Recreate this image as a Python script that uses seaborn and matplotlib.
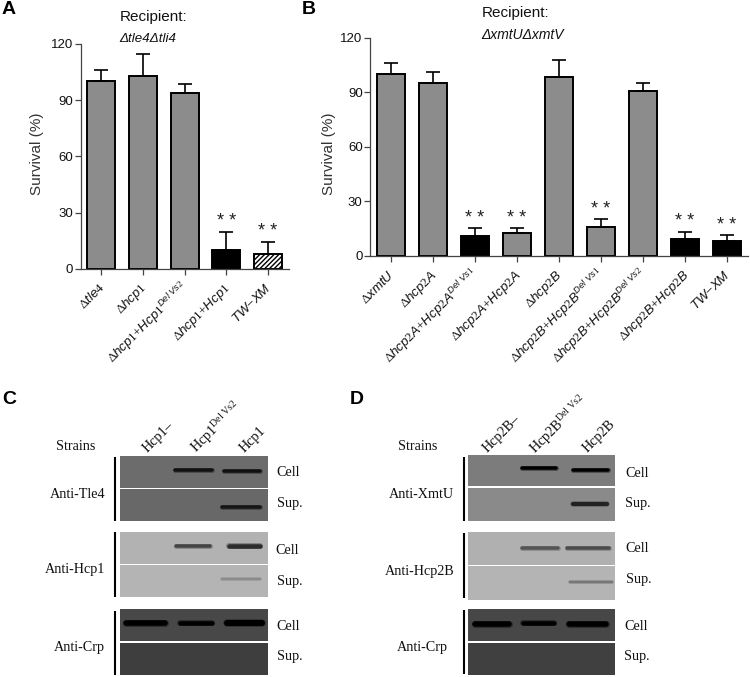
import matplotlib
matplotlib.use('Agg')
import matplotlib.pyplot as plt
import pandas as pd
import seaborn as sns
from matplotlib.patches import Rectangle
from matplotlib.transforms import ScaledTranslation

# Data
a_labels = [r"$\mathit{Δtle4}$", r"$\mathit{Δhcp1}$", r"$\mathit{Δhcp1{+}Hcp1}^{\mathit{Del\ Vs2}}$",
            r"$\mathit{Δhcp1{+}Hcp1}$", r"$\mathit{TW{-}XM}$"]
a_values = [100, 103, 93.8, 10, 8]
a_err_top = [106, 114.5, 98.5, 19.6, 14.2]
a_colors = ['#8c8c8c', '#8c8c8c', '#8c8c8c', 'black', 'white']
a_stars = [False, False, False, True, True]

b_labels = [r"$\mathit{ΔxmtU}$", r"$\mathit{Δhcp2A}$", r"$\mathit{Δhcp2A{+}Hcp2A}^{\mathit{Del\ Vs1}}$",
            r"$\mathit{Δhcp2A{+}Hcp2A}$", r"$\mathit{Δhcp2B}$", r"$\mathit{Δhcp2B{+}Hcp2B}^{\mathit{Del\ Vs1}}$",
            r"$\mathit{Δhcp2B{+}Hcp2B}^{\mathit{Del\ Vs2}}$", r"$\mathit{Δhcp2B{+}Hcp2B}$", r"$\mathit{TW{-}XM}$"]
b_values = [100.2, 95.2, 11, 12.7, 98.2, 16, 90.6, 9.4, 8]
b_err_top = [105.9, 101.3, 15, 15.2, 107.7, 20.2, 94.9, 13.2, 11.2]
b_colors = ['#8c8c8c', '#8c8c8c', 'black', '#8c8c8c', '#8c8c8c', '#8c8c8c', '#8c8c8c', 'black', 'black']
b_stars = [False, False, True, True, False, True, False, True, True]

y_ticks = [0, 30, 60, 90, 120]

# gel panels, everything in image pixels: (x0, x1, y0, y1, shade)
c_blots = [(120, 268, 455.7, 488, '#6c6c6c'), (120, 268, 489.3, 521.3, '#686868'),
           (120, 268, 531.7, 563.7, '#b2b2b2'), (120, 268, 565, 597.3, '#b4b4b4'),
           (120, 268, 608.7, 641.3, '#484848'), (120, 268, 642.7, 675.3, '#3e3e3e')]
d_blots = [(467.7, 614.7, 455, 486, '#7c7c7c'), (467.7, 614.7, 487.7, 521, '#8a8a8a'),
           (467.7, 614.7, 531.7, 564.7, '#b0b0b0'), (467.7, 614.7, 566, 599.7, '#b4b4b4'),
           (467.7, 614.7, 608.7, 641.3, '#474747'), (467.7, 614.7, 643.3, 674.7, '#404040')]
# bands: (x0, x1, y, thickness px, colour)
c_bands = [(175, 212, 470, 3.5, '#111111'), (224, 260, 470.7, 3.5, '#111111'), (222, 260, 506.7, 3.5, '#151515'),
           (176, 210, 546.3, 3.5, '#444444'), (229, 260, 546.3, 4.5, '#2c2c2c'), (222, 260, 578.7, 2.5, '#8c8c8c'),
           (126, 165, 623.3, 5.5, 'black'), (180, 212, 623.3, 4.5, 'black'), (227, 262, 622.8, 6, 'black')]
d_bands = [(522, 556, 468, 3.5, 'black'), (573, 608, 469.7, 3.5, 'black'), (573, 607, 504, 4, '#222222'),
           (522, 558, 548, 3.5, '#555555'), (567, 609, 547.7, 3.5, '#4c4c4c'), (570, 612, 582, 2.5, '#777777'),
           (475, 509, 624, 5.5, 'black'), (523, 554, 623.3, 4.5, 'black'), (569, 606, 624, 5.5, 'black')]
# black bars left of each antibody group: (x, y0, y1)
group_bars = [(115, 456.7, 520.7), (115, 532.3, 596.7), (115, 610.7, 675),
              (463.7, 456.7, 520.7), (463.7, 533.3, 597.7), (463.7, 610, 674)]
# (text, x, y, ha)
gel_text = [('Strains', 76, 446.7, 'center'), ('Anti-Tle4', 105, 495, 'right'), ('Anti-Hcp1', 105, 570, 'right'),
            ('Anti-Crp', 105, 647.7, 'right'), ('Cell', 276.7, 472.7, 'left'), ('Sup.', 276.7, 503.7, 'left'),
            ('Cell', 275.7, 551, 'left'), ('Sup.', 276.7, 581, 'left'), ('Cell', 276.7, 626, 'left'),
            ('Sup.', 276.7, 656.7, 'left'),
            ('Strains', 417.3, 446.7, 'center'), ('Anti-XmtU', 454, 494.3, 'right'), ('Anti-Hcp2B', 455, 571.7, 'right'),
            ('Anti-Crp', 448.3, 647.7, 'right'), ('Cell', 625, 473.3, 'left'), ('Sup.', 625.3, 503.3, 'left'),
            ('Cell', 625, 549, 'left'), ('Sup.', 625.7, 579.3, 'left'), ('Cell', 624, 626, 'left'),
            ('Sup.', 624, 656.7, 'left')]
gel_columns = [('Hcp1–', 145, 450), (r'$\mathrm{Hcp1}^{\mathrm{Del\ Vs2}}$', 193.3, 450), ('Hcp1', 242.3, 450),
               ('Hcp2B–', 485, 450.7), (r'$\mathrm{Hcp2B}^{\mathrm{Del\ Vs2}}$', 531.7, 450.7), ('Hcp2B', 585, 450.7)]

sns.set_theme(style='ticks')
plt.rcParams['font.family'] = ['Liberation Sans', 'DejaVu Sans']
plt.rcParams['mathtext.fontset'] = 'custom'
plt.rcParams['mathtext.it'] = 'Liberation Sans:italic'
plt.rcParams['mathtext.rm'] = 'Liberation Serif'

W, H = 750, 677
fig = plt.figure(figsize=(W / 100, H / 100), dpi=100)


def draw_bars(left, right, top, bottom, labels, values, err_top, colors, stars, ylab_x, ylab_y):
    ax = fig.add_axes([left / W, 1 - bottom / H, (right - left) / W, (bottom - top) / H])
    df = pd.DataFrame({'strain': labels, 'survival': values})
    sns.barplot(data=df, x='strain', y='survival', hue='strain', palette=colors, legend=False,
                width=0.67, edgecolor='black', linewidth=1.4, saturation=1, ax=ax, errorbar=None)
    pos = list(range(len(values)))
    ax.errorbar(pos, values, yerr=[[0] * len(values), [t - v for t, v in zip(err_top, values)]],
                fmt='none', ecolor='black', elinewidth=1.2, capsize=5, capthick=1.2)
    for p, t, s in zip(pos, err_top, stars):
        if s:
            ax.text(p, t + 5.5, '* *', ha='center', va='center', fontsize=13, color='#222222')
    ax.set_xlim(-0.49, len(values) - 0.5)
    ax.set_ylim(0, 120)
    ax.set_yticks(y_ticks)
    ax.set_xlabel('')
    ax.set_ylabel('Survival (%)', fontsize=11, color='#333333', va='center')
    ax.yaxis.set_label_coords((ylab_x - left) / (right - left), (bottom - ylab_y) / (bottom - top))
    ax.tick_params(axis='y', labelsize=9.5, length=4, width=0.9, color='#444444', labelcolor='#111111', pad=1.5)
    ax.tick_params(axis='x', length=4, width=0.9, color='#444444', pad=2)
    # baseline anchored so the superscript labels line up with the plain ones
    offset = ScaledTranslation(3 / 72, -8 / 72, fig.dpi_scale_trans)
    ax.set_xticks(pos)
    ax.set_xticklabels(labels, rotation=45, ha='right', va='baseline', rotation_mode='anchor',
                       fontsize=9.5, color='#111111')
    for lab in ax.get_xticklabels():
        lab.set_transform(lab.get_transform() + offset)
    sns.despine(ax=ax)
    for side in ['left', 'bottom']:
        ax.spines[side].set_linewidth(0.9)
        ax.spines[side].set_color('#444444')
    return ax


ax_a = draw_bars(80.5, 289, 44, 268.7, a_labels, a_values, a_err_top, a_colors, a_stars, 37, 154)
ax_a.patches[4].set_hatch('///////')
ax_b = draw_bars(370.3, 748, 37.7, 255.7, b_labels, b_values, b_err_top, b_colors, b_stars, 329, 154)

# overlay in image pixels for gels and free text
over = fig.add_axes([0, 0, 1, 1])
over.set_xlim(0, W)
over.set_ylim(H, 0)
over.axis('off')
over.patch.set_alpha(0)

for x0, x1, y0, y1, shade in c_blots + d_blots:
    over.add_patch(Rectangle((x0, y0), x1 - x0, y1 - y0, facecolor=shade, edgecolor='none'))
for x0, x1, y, t, col in c_bands + d_bands:
    over.plot([x0, x1], [y, y], color=col, lw=(t + 1.5) * 0.72, alpha=0.35, solid_capstyle='round')
    over.plot([x0, x1], [y, y], color=col, lw=t * 0.72, solid_capstyle='round')
for x, y0, y1 in group_bars:
    over.plot([x, x], [y0, y1], color='black', lw=1.5, solid_capstyle='butt')

for txt, x, y, ha in gel_text:
    over.text(x, y, txt, ha=ha, va='center', family='Liberation Serif', fontsize=10.2, color='#111111')
for txt, x, y in gel_columns:
    over.text(x, y, txt, rotation=45, ha='left', va='center', rotation_mode='anchor',
              family='Liberation Serif', fontsize=10.2, color='#111111')

over.text(119.3, 17, 'Recipient:', ha='left', va='center', fontsize=11, color='#111111')
over.text(119.3, 39, 'Δtle4Δtli4', ha='left', va='center', fontsize=9.6, style='italic', color='#111111')
over.text(481.7, 13.3, 'Recipient:', ha='left', va='center', fontsize=11, color='#111111')
over.text(481.7, 35, 'ΔxmtUΔxmtV', ha='left', va='center', fontsize=10, style='italic', color='#111111')

for letter, x, y in [('A', 2, 10), ('B', 301.7, 10), ('C', 2, 399), ('D', 350, 399)]:
    over.text(x, y, letter, ha='left', va='center', fontsize=14, fontweight='bold', color='black')

fig.savefig('out.png', dpi=100)
